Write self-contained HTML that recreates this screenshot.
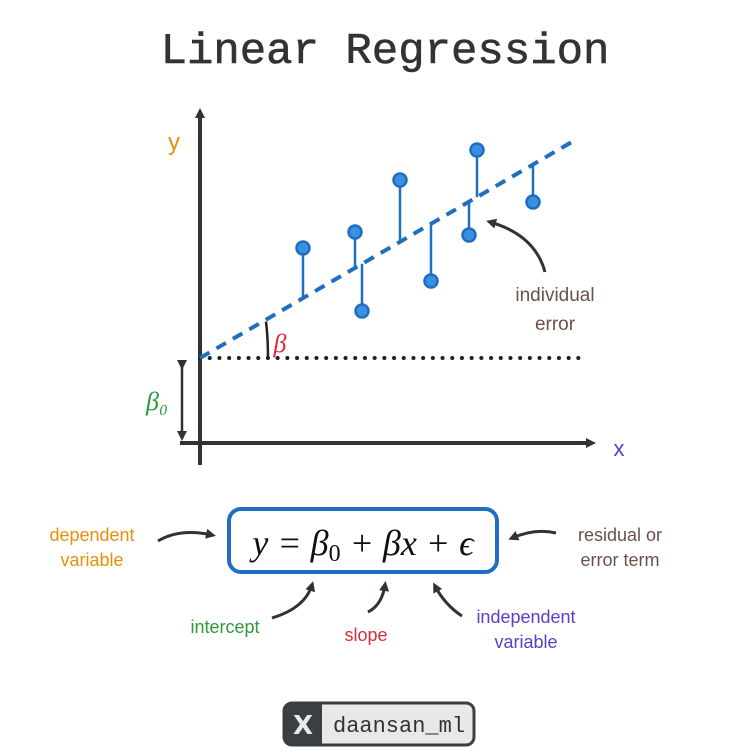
<!DOCTYPE html>
<html><head><meta charset="utf-8">
<style>
body{margin:0;background:#fff;}
svg{display:block;}
.hand{font-family:"Liberation Sans",sans-serif;font-size:18px;}
</style></head>
<body>
<svg width="736" height="756" viewBox="0 0 736 756">
<defs>
<marker id="ah" markerWidth="10" markerHeight="10" refX="6" refY="5" orient="auto" markerUnits="userSpaceOnUse"><path d="M0,0 L10,5 L0,10 Z" fill="#2f3337"/></marker>
</defs>
<text x="385" y="63" text-anchor="middle" font-family="Liberation Mono,monospace" font-size="44" fill="#333" stroke="#333" stroke-width="0.6">Linear Regression</text>

<g id="chart"></g>

<rect x="229" y="509" width="268" height="63" rx="12" fill="#fff" stroke="#1f6fc0" stroke-width="4"/>
<text x="363" y="555" text-anchor="middle" font-family="Liberation Serif,serif" font-style="italic" font-size="36" fill="#111">y = β<tspan font-size="24" dy="6" font-style="normal">0</tspan><tspan dy="-6"> + βx + ϵ</tspan></text>

<text x="92" y="541" text-anchor="middle" class="hand" fill="#e8900c">dependent</text>
<text x="92" y="566" text-anchor="middle" class="hand" fill="#e8900c">variable</text>
<path d="M158,541 Q180,528 212,535" fill="none" stroke="#2f3337" stroke-width="3" marker-end="url(#ah)"/>

<text x="620" y="541" text-anchor="middle" class="hand" fill="#6b5148">residual or</text>
<text x="620" y="566" text-anchor="middle" class="hand" fill="#6b5148">error term</text>
<path d="M556,533 Q535,528 512,538" fill="none" stroke="#2f3337" stroke-width="3" marker-end="url(#ah)"/>

<text x="225" y="633" text-anchor="middle" class="hand" fill="#2e9a3a">intercept</text>
<path d="M272,618 Q305,608 312,585" fill="none" stroke="#2f3337" stroke-width="3" marker-end="url(#ah)"/>

<text x="366" y="641" text-anchor="middle" class="hand" fill="#d7303a">slope</text>
<path d="M368,612 Q382,605 385,585" fill="none" stroke="#2f3337" stroke-width="3" marker-end="url(#ah)"/>

<text x="526" y="623" text-anchor="middle" class="hand" fill="#5b3fc8">independent</text>
<text x="526" y="648" text-anchor="middle" class="hand" fill="#5b3fc8">variable</text>
<path d="M462,616 Q445,605 435,586" fill="none" stroke="#2f3337" stroke-width="3" marker-end="url(#ah)"/>

<g>
<rect x="284" y="703" width="190" height="42" rx="8" fill="#e8e8e8" stroke="#3a3f44" stroke-width="3"/>
<path d="M292,703 h30 v42 h-30 a8,8 0 0 1 -8,-8 v-26 a8,8 0 0 1 8,-8 z" fill="#3a3f44"/>
<text x="303" y="734" text-anchor="middle" font-family="DejaVu Sans,sans-serif" font-size="26" font-weight="bold" fill="#e8e8e8">X</text>
<text x="333" y="732" font-family="Liberation Mono,monospace" font-size="22" fill="#333">daansan_ml</text>
</g>
</svg>
<script>
const xs = [1.03, 1.55, 1.62, 2.00, 2.31, 2.69, 2.77, 3.33];
const ys = [1.10, 1.26, 0.47, 1.78, 0.77, 1.23, 2.08, 1.56];
const intercept = 0;
const slope = 0.581;
const lineXRange = [0, 3.75];

const X0 = 200, Y0 = 358, S = 100;
function sx(v){return X0 + v*S;}
function sy(v){return Y0 - v*S;}
const NS = "http://www.w3.org/2000/svg";
const g = document.getElementById('chart');
function mk(tag, attrs){const e=document.createElementNS(NS,tag);for(const k in attrs)e.setAttribute(k,attrs[k]);g.appendChild(e);return e;}

let a = mk('line',{x1:200,y1:465,x2:200,y2:112,stroke:'#2f3337','stroke-width':4,'marker-end':'url(#ah)'});


a = mk('line',{x1:180,y1:443,x2:592,y2:443,stroke:'#2f3337','stroke-width':4,'marker-end':'url(#ah)'});


let t = mk('text',{x:174,y:150,'text-anchor':'middle',fill:'#e8900c','font-family':'Liberation Sans,sans-serif','font-size':24});
t.textContent='y';


t = mk('text',{x:619,y:456,'text-anchor':'middle',fill:'#5b3fc8','font-family':'Liberation Sans,sans-serif','font-size':22});
t.textContent='x';



a = mk('line',{x1:sx(0),y1:sy(intercept),x2:sx(3.8),y2:sy(intercept),stroke:'#222','stroke-width':4,'stroke-dasharray':'0.1 9.6','stroke-linecap':'round'});



a = mk('line',{x1:182,y1:sy(intercept)+8,x2:182,y2:437,stroke:'#2f3337','stroke-width':2.5,'marker-start':'url(#ah)','marker-end':'url(#ah)'});


t = mk('text',{x:157,y:410,'text-anchor':'middle',fill:'#2e9a3a','font-family':'Liberation Serif,serif','font-style':'italic','font-size':26});
t.textContent='β₀';



a = mk('path',{d:`M${sx(0.66)},${sy(intercept+slope*0.66)+2} Q${sx(0.68)},${sy(0.2)} ${sx(0.68)},${sy(0)}`,fill:'none',stroke:'#222','stroke-width':2.5});


t = mk('text',{x:280,y:352,'text-anchor':'middle',fill:'#d7303a','font-family':'Liberation Serif,serif','font-style':'italic','font-size':26});
t.textContent='β';



a = mk('line',{x1:sx(lineXRange[0]),y1:sy(intercept+slope*lineXRange[0]),x2:sx(lineXRange[1]),y2:sy(intercept+slope*lineXRange[1]),stroke:'#1f6fc0','stroke-width':4,'stroke-dasharray':'11 8'});



xs.forEach((x,i)=>{
  const yl = intercept + slope*x;
  const s = mk('line',{x1:sx(x),y1:sy(yl),x2:sx(x),y2:sy(ys[i]),stroke:'#1f6fc0','stroke-width':2.5});
  
  
});
xs.forEach((x,i)=>{
  const c = mk('circle',{cx:sx(x),cy:sy(ys[i]),r:6.5,fill:'#3b8fe0',stroke:'#1f6fc0','stroke-width':2.5});
  
  
});

a = mk('path',{d:'M545,272 Q535,235 490,222',fill:'none',stroke:'#2f3337','stroke-width':3,'marker-end':'url(#ah)'});


t = mk('text',{x:555,y:301,'text-anchor':'middle',fill:'#6b5148','font-family':'Liberation Sans,sans-serif','font-size':19});
t.textContent='individual';


t = mk('text',{x:555,y:330,'text-anchor':'middle',fill:'#6b5148','font-family':'Liberation Sans,sans-serif','font-size':19});
t.textContent='error';


</script>
</body></html>
